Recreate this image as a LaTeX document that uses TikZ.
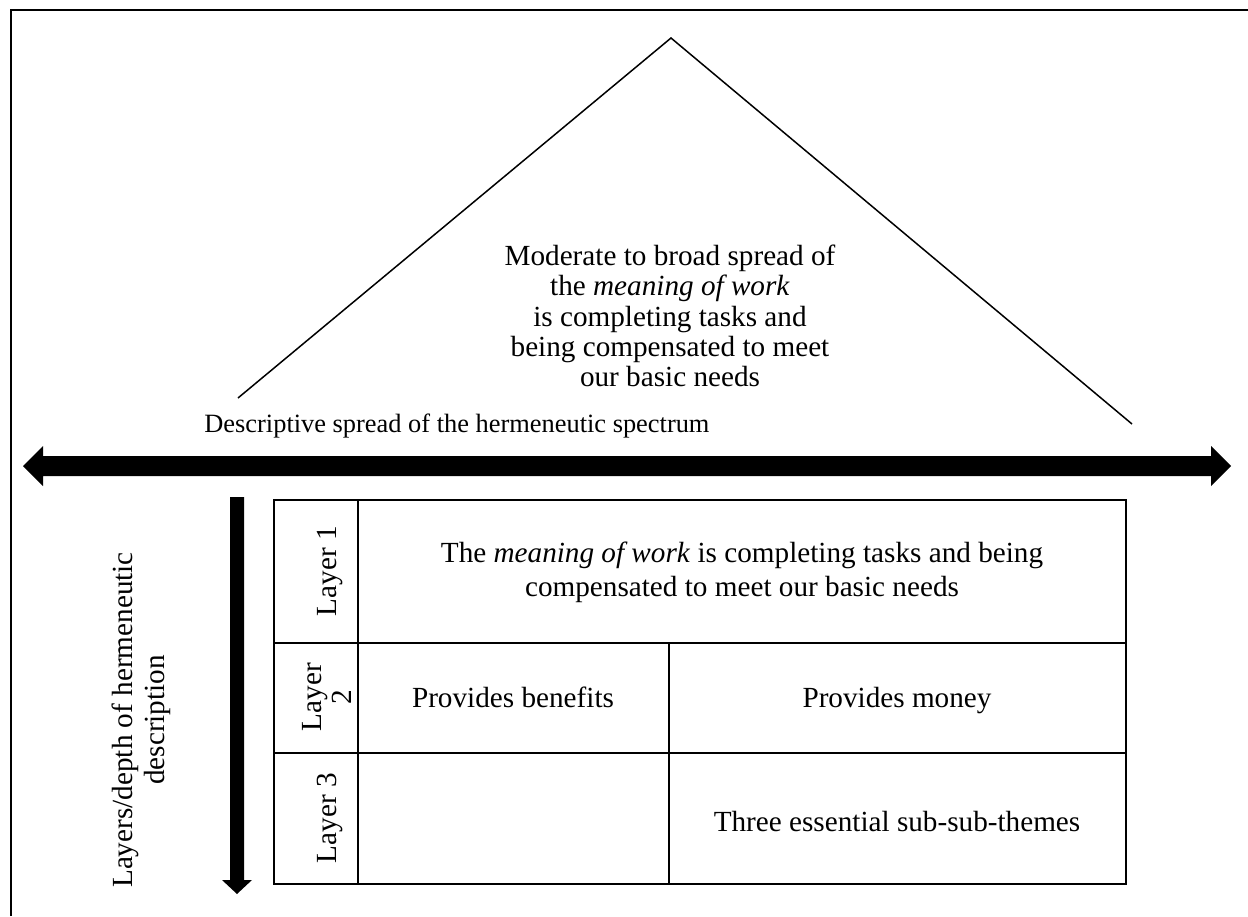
\documentclass[tikz,border=0pt]{standalone}
\usepackage{fontspec}
\setmainfont{Liberation Serif}
\begin{document}
\begin{tikzpicture}[x=0.5pt,y=-0.5pt,
  frame/.style={line width=1pt},
  roof/.style={line width=0.75pt},
  grid/.style={line width=1pt},
  bigtxt/.style={font=\fontsize{14.6}{17}\selectfont, align=center, inner sep=0pt},
  rooftxt/.style={font=\fontsize{14.6}{15.15}\selectfont, align=center, inner sep=0pt},
  smalltxt/.style={font=\fontsize{13.2}{15.2}\selectfont, inner sep=0pt},
  blockarrow/.style={fill=black, draw=none}]
\useasboundingbox (0,0) rectangle (1248,916);
% outer frame
\draw[frame] (11,916) -- (11,10) -- (1248,10);
% roof over the spectrum
\coordinate (apex) at (671,38);
\coordinate (roofL) at (238,398);
\coordinate (roofR) at (1132,424);
\draw[roof] (roofL) -- (apex) -- (roofR);
\node[rooftxt] (spread) at (670,316) {Moderate to broad spread of\\ the \textit{meaning of work}\\ is completing tasks and\\ being compensated to meet\\ our basic needs};
\node[smalltxt, anchor=base west] (spectrum) at (204,432) {Descriptive spread of the hermeneutic spectrum};
% horizontal double block arrow
\path[blockarrow] (23,466) -- (43,446) -- (43,456) -- (1211,456) -- (1211,446) -- (1231,466)
  -- (1211,486) -- (1211,476) -- (43,476) -- (43,486) -- cycle;
% vertical block arrow
\path[blockarrow] (230,497) -- (244,497) -- (244,880) -- (252,880) -- (237,894) -- (222,880) -- (230,880) -- cycle;
\node[bigtxt, rotate=90, font=\fontsize{14.6}{16}\selectfont] (depth) at (141,720) {Layers/depth of hermeneutic\\ description};
% layer table
\draw[grid] (274,500) rectangle (1126,884);
\draw[grid] (358,500) -- (358,884);
\draw[grid] (274,643) -- (1126,643);
\draw[grid] (274,753) -- (1126,753);
\draw[grid] (669,643) -- (669,884);
\node[bigtxt, rotate=90] (l1) at (330,571) {Layer 1};
\node[bigtxt, rotate=90, font=\fontsize{14.6}{15}\selectfont] (l2) at (327,697) {Layer\\ 2};
\node[bigtxt, rotate=90] (l3) at (330,818) {Layer 3};
\node[bigtxt] (c1) at (742,572) {The \textit{meaning of work} is completing tasks and being\\ compensated to meet our basic needs};
\node[bigtxt, anchor=base] (c21) at (513,707) {Provides benefits};
\node[bigtxt, anchor=base] (c22) at (897,707) {Provides money};
\node[bigtxt, anchor=base] (c32) at (897,831) {Three essential sub-sub-themes};
\end{tikzpicture}
\end{document}
